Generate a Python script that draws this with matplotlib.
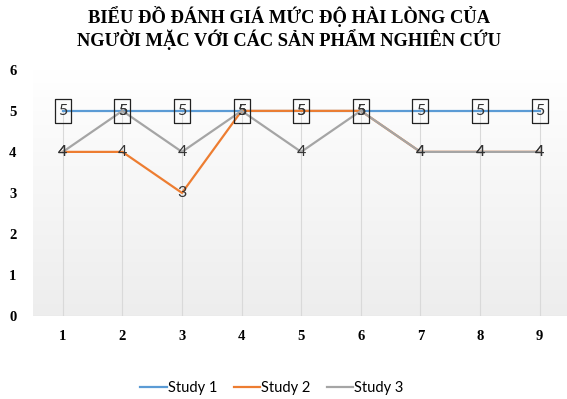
import numpy as np
import matplotlib.pyplot as plt

# Dữ liệu
x_vals = [1, 2, 3, 4, 5, 6, 7, 8, 9]
study1 = [5, 5, 5, 5, 5, 5, 5, 5, 5]
study2 = [4, 4, 3, 5, 5, 5, 4, 4, 4]
study3 = [4, 5, 4, 5, 4, 5, 4, 4, 4]
series_names = ['Study 1', 'Study 2', 'Study 3']
colors = ['#5B9BD5', '#ED7D31', '#A5A5A5']
title = 'BIỂU ĐỒ ĐÁNH GIÁ MỨC ĐỘ HÀI LÒNG CỦA\nNGƯỜI MẶC VỚI CÁC SẢN PHẨM NGHIÊN CỨU'

fig = plt.figure(figsize=(5.67, 3.99), dpi=100)
ax = fig.add_axes([0.0582, 0.208, 0.946, 0.617])

# Nền chuyển màu (trắng ở trên, xám nhạt ở dưới)
shade = np.linspace(0.93, 1.0, 256)
grad = np.dstack([shade, shade, shade]).reshape(256, 1, 3)
ax.imshow(grad, extent=[0.5, 9.5, 0, 6], aspect='auto', origin='lower', zorder=0)

# Đường thả xuống
all_series = [study1, study2, study3]
tops = np.max(np.array(all_series), axis=0)
ax.vlines(x_vals, 0, tops, color='#D9D9D9', lw=0.8, zorder=1)
ax.axhline(0, color='#D0D0D0', lw=0.8, zorder=1)

for name, ys, c in zip(series_names, all_series, colors):
    ax.plot(x_vals, ys, color=c, lw=1.6, label=name, zorder=2)

# khung chữ nhật quanh nhãn của Study 1
box = [(-0.7, -1), (0.7, -1), (0.7, 1), (-0.7, 1), (-0.7, -1)]
ax.plot(x_vals, study1, ls='none', marker=box, ms=17, mfc='none',
        mec='#222222', mew=0.9, zorder=3)

for ys in all_series:
    for xv, yv in zip(x_vals, ys):
        ax.text(xv, yv, str(yv), ha='center', va='center', fontsize=11.5,
                family='Lato', color='#333333', zorder=4)

ax.set_xlim(0.5, 9.5)
ax.set_ylim(0, 6)
ax.set_xticks(x_vals)
ax.set_yticks(range(0, 7))
for sp in ax.spines.values():
    sp.set_visible(False)
ax.tick_params(length=0)
ax.tick_params(axis='x', pad=10)
ax.tick_params(axis='y', pad=12)
for lab in ax.get_xticklabels() + ax.get_yticklabels():
    lab.set_family('Liberation Serif')
    lab.set_fontweight('bold')
    lab.set_fontsize(10.5)

fig.text(0.51, 0.985, title, ha='center', va='top', fontsize=13.3,
         fontweight='bold', family='Liberation Serif', linespacing=1.1)

fig.legend(loc='center', bbox_to_anchor=(0.48, 0.027), ncol=3, frameon=False,
           prop={'family': 'Lato', 'size': 10.5}, handlelength=1.8,
           handletextpad=0.1, columnspacing=1.1)

plt.savefig('out.png', dpi=100)
